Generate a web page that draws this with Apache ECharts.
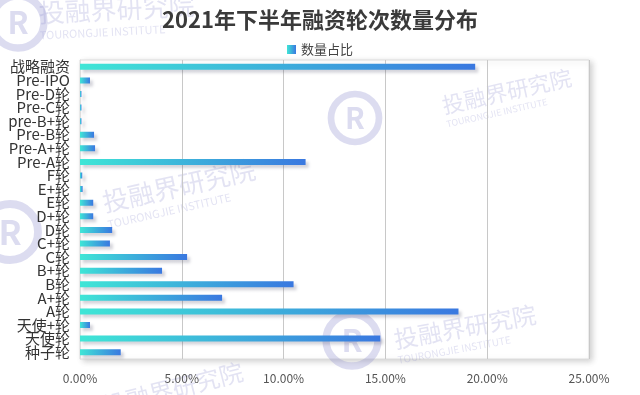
<!DOCTYPE html>
<html>
<head>
<meta charset="utf-8">
<script src="https://cdn.jsdelivr.net/npm/echarts@6/dist/echarts.min.js"></script>
<style>
html,body{margin:0;padding:0;background:#fff;}
#chart{width:640px;height:395px;}
</style>
</head>
<body>
<div id="chart"></div>
<script>
// Categories, top to bottom
const categories = ['战略融资','Pre-IPO','Pre-D轮','Pre-C轮','pre-B+轮','Pre-B轮','Pre-A+轮','Pre-A轮','F轮','E+轮','E轮','D+轮','D轮','C+轮','C轮','B+轮','B轮','A+轮','A轮','天使+轮','天使轮','种子轮'];
// Share of deals (%)
const shareValues = [19.41,0.49,0.07,0.07,0.07,0.69,0.74,11.08,0.11,0.13,0.65,0.65,1.58,1.47,5.26,4.03,10.49,6.98,18.59,0.49,14.75,2.00];
const xTicks = [0,5,10,15,20,25];
const seriesName = '数量占比';
const titleText = '2021年下半年融资轮次数量分布';

const chart = echarts.init(document.getElementById('chart'), null, {renderer:'canvas'});

const wmColor = 'rgba(140,140,205,0.24)';
const wmFont = '"Noto Sans CJK SC", sans-serif';
function wmText(x, y, rot, size) {
  return {
    type:'group', x:x, y:y, rotation:rot, silent:true, z:-1,
    children:[
      {type:'text', style:{text:'投融界研究院', fill:wmColor, font:'400 '+size+'px '+wmFont}},
      {type:'text', y:size*1.15, style:{text:'TOURONGJIE INSTITUTE', fill:wmColor, font:'400 '+Math.round(size*0.42)+'px '+wmFont}}
    ]
  };
}
function wmLogo(cx, cy, r) {
  return {
    type:'group', x:cx, y:cy, silent:true, z:-1,
    children:[
      {type:'circle', shape:{cx:0, cy:0, r:r}, style:{fill:'none', stroke:'rgba(140,140,205,0.3)', lineWidth:r*0.28}},
      {type:'text', style:{text:'R', x:0, y:0, align:'center', verticalAlign:'middle', fill:'rgba(140,140,205,0.3)', font:'700 '+Math.round(r*1.2)+'px '+wmFont}}
    ]
  };
}

const option = {
  backgroundColor:'#fff',
  title:{
    text:titleText, left:'center', top:4,
    textStyle:{fontFamily:'"Noto Sans CJK SC", sans-serif', fontSize:22, fontWeight:'bold', color:'#3a3a3a'}
  },
  legend:{
    data:[seriesName], top:38, left:'center',
    icon:'rect', itemWidth:9, itemHeight:9, itemGap:6,
    textStyle:{fontFamily:'"Noto Sans CJK SC", sans-serif', fontSize:13, color:'#444'}
  },
  grid:{
    left:80, right:51, top:60, bottom:36, containLabel:false,
    show:true, backgroundColor:'#fff', borderColor:'#dcdcdc', borderWidth:1,
    shadowColor:'rgba(0,0,0,0.18)', shadowBlur:6, shadowOffsetX:3, shadowOffsetY:2
  },
  xAxis:{
    type:'value', min:0, max:25, interval:5,
    axisLine:{show:false}, axisTick:{show:false},
    splitLine:{show:true, lineStyle:{color:'#c8c8c8', width:1}},
    axisLabel:{
      margin:13, color:'#555', fontSize:12,
      fontFamily:'"Noto Sans CJK SC", sans-serif',
      formatter:function(v){ return xTicks.indexOf(v) >= 0 ? v.toFixed(2)+'%' : ''; }
    }
  },
  yAxis:{
    type:'category', data:categories, inverse:true,
    axisLine:{show:true, lineStyle:{color:'#dddddd'}}, axisTick:{show:false},
    axisLabel:{interval:0, margin:10, color:'#333', fontSize:15, fontFamily:'"Noto Sans CJK SC", sans-serif'}
  },
  series:[{
    name:seriesName, type:'bar', data:shareValues, barWidth:6,
    itemStyle:{
      color:new echarts.graphic.LinearGradient(0,0,1,0,[
        {offset:0, color:'#3fe6d6'},
        {offset:1, color:'#3a78e0'}
      ]),
      shadowColor:'rgba(60,60,90,0.22)', shadowBlur:3, shadowOffsetX:3, shadowOffsetY:3
    }
  }],
  graphic:[
    wmLogo(18, 22, 26),
    wmText(38, 0, 0.05, 26),
    wmLogo(10, 232, 28),
    wmText(100, 190, 0.22, 26),
    wmLogo(355, 118, 24),
    wmText(440, 95, 0.22, 22),
    wmLogo(352, 340, 26),
    wmText(392, 328, 0.18, 24),
    wmText(100, 395, 0.25, 24)
  ]
};
chart.setOption(option);
</script>
</body>
</html>
